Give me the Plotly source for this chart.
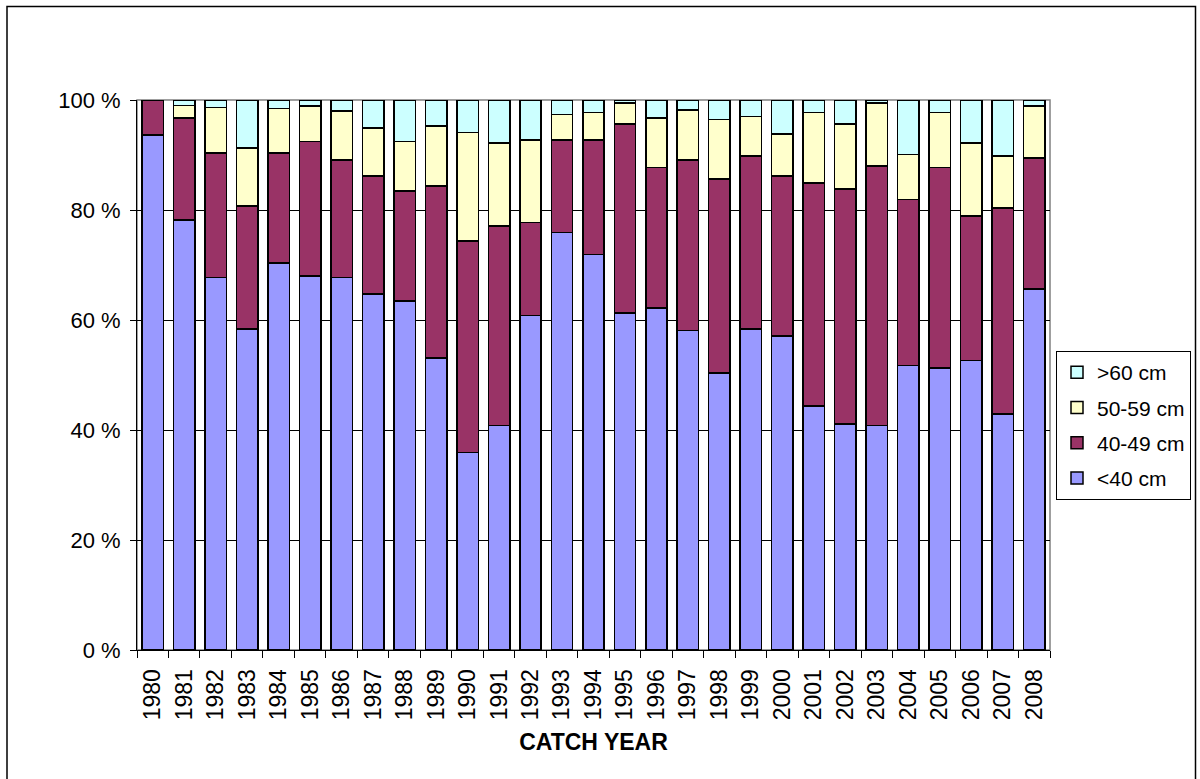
import plotly.graph_objects as go

# Catch composition by length class, per catch year (% of catch)
years = [str(y) for y in range(1980, 2009)]

lt40 = [93.6, 78.2, 67.7, 58.4, 70.4, 68.0, 67.7, 64.7, 63.5, 53.1,
        35.9, 40.8, 60.8, 75.9, 71.9, 61.3, 62.2, 58.1, 50.4, 58.4,
        57.1, 44.4, 41.1, 40.8, 51.7, 51.3, 52.6, 42.9, 65.6]
cm40_49 = [6.4, 18.5, 22.7, 22.3, 20.0, 24.5, 21.4, 21.5, 20.0, 31.3,
           38.5, 36.3, 16.9, 16.8, 20.8, 34.3, 25.5, 31.0, 35.2, 31.4,
           29.1, 40.5, 42.7, 47.2, 30.2, 36.4, 26.3, 37.5, 23.9]
cm50_59 = [0.0, 2.3, 8.2, 10.6, 8.1, 6.4, 8.9, 8.7, 9.0, 10.9,
           19.7, 15.1, 15.0, 4.7, 5.0, 3.9, 9.0, 9.1, 10.9, 7.2,
           7.6, 12.8, 11.8, 11.5, 8.2, 10.0, 13.3, 9.4, 9.4]
gt60 = [0.0, 1.0, 1.4, 8.7, 1.5, 1.1, 2.0, 5.1, 7.5, 4.7,
        5.9, 7.8, 7.3, 2.6, 2.3, 0.5, 3.3, 1.8, 3.5, 3.0,
        6.2, 2.3, 4.4, 0.5, 9.9, 2.3, 7.8, 10.2, 1.1]

series = [
    ("<40 cm", lt40, "#9999FF"),
    ("40-49 cm", cm40_49, "#993366"),
    ("50-59 cm", cm50_59, "#FFFFCC"),
    (">60 cm", gt60, "#CCFFFF"),
]

y_ticks = [0, 20, 40, 60, 80, 100]
y_tick_labels = ["0 %", "20 %", "40 %", "60 %", "80 %", "100 %"]

FONT = "Liberation Sans, Arial, sans-serif"

fig = go.Figure()
for i, (name, vals, color) in enumerate(series):
    fig.add_trace(go.Bar(
        x=years, y=vals, name=name,
        legendgroup=str(i),
        legendrank=len(series) - i,
        marker=dict(color=color, line=dict(color="#000000", width=1.5)),
    ))

# plot-area geometry in pixels (used for the chart frame)
W, H = 1200, 779
L, R, T, B = 137, 150, 100, 129
pw, ph = W - L - R, H - T - B


def px_x(px):
    return (px - L) / pw


def px_y(py):
    return (H - B - py) / ph


fig.update_layout(
    width=W, height=H,
    margin=dict(l=L, r=R, t=T, b=B, pad=0, autoexpand=False),
    barmode="stack",
    bargap=0.32,
    paper_bgcolor="white",
    plot_bgcolor="white",
    font=dict(family=FONT, size=22, color="#000000"),
    showlegend=True,
    legend=dict(
        x=px_x(1056), y=px_y(351), xanchor="left", yanchor="top",
        traceorder="grouped",
        tracegroupgap=5,
        bordercolor="#000000", borderwidth=1,
        bgcolor="white",
        font=dict(family=FONT, size=21),
        itemwidth=30,
    ),
    xaxis=dict(
        type="category",
        tickangle=-90,
        tickson="boundaries",
        ticks="outside", ticklen=7, tickcolor="#000000", tickwidth=1,
        ticklabelstandoff=9,
        showline=True, linecolor="#000000", linewidth=1,
        showgrid=False,
        tickfont=dict(family=FONT, size=23),
        title=dict(text="<b>CATCH YEAR</b>",
                   font=dict(family=FONT, size=23), standoff=14),
        automargin=False,
    ),
    yaxis=dict(
        range=[0, 100],
        tickvals=y_ticks, ticktext=y_tick_labels,
        ticks="outside", ticklen=6, tickcolor="#000000", tickwidth=1,
        ticklabelstandoff=5,
        showline=True, linecolor="#000000", linewidth=1,
        showgrid=True, gridcolor="#000000", gridwidth=1,
        zeroline=False,
        tickfont=dict(family=FONT, size=22),
        automargin=False,
    ),
    shapes=[
        # plot-area frame
        dict(type="rect", xref="paper", yref="paper",
             x0=0, x1=1, y0=0, y1=1,
             line=dict(color="#808080", width=1.5), layer="below"),
        # outer chart border
        dict(type="rect", xref="paper", yref="paper",
             x0=px_x(7), x1=px_x(1195.5), y0=px_y(6.5), y1=px_y(790),
             line=dict(color="#000000", width=1.5), layer="above"),
    ],
)

fig.write_html("out.html")
